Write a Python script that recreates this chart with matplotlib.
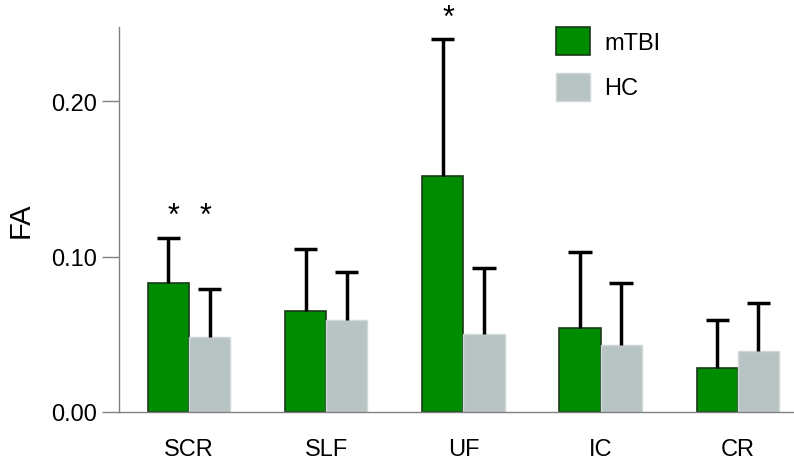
import numpy as np
import matplotlib.pyplot as plt

plt.rcParams['font.family'] = ['Liberation Sans', 'DejaVu Sans']

# 数据
regions = ['SCR', 'SLF', 'UF', 'IC', 'CR']
mtbi_mean = [0.083, 0.065, 0.152, 0.054, 0.028]
mtbi_sd = [0.029, 0.040, 0.088, 0.049, 0.031]
hc_mean = [0.048, 0.059, 0.050, 0.043, 0.039]
hc_sd = [0.031, 0.031, 0.043, 0.040, 0.031]
stars_mtbi = [True, False, True, False, False]
stars_hc = [True, False, False, False, False]

green = '#008c00'
grey = '#b8c4c4'

fig = plt.figure(figsize=(7.94, 4.64), dpi=100)
ax = fig.add_axes([0.150, 0.110, 0.850, 0.830])

x = np.arange(len(regions))
w = 0.30
cap = 0.085

ax.bar(x - w / 2, mtbi_mean, w, color=green, edgecolor='#1a3a1a', linewidth=1.2, label='mTBI', zorder=2)
ax.bar(x + w / 2, hc_mean, w, color=grey, edgecolor='#d0d8d8', linewidth=1.0, label='HC', zorder=2)

# 只画向上的误差线
for xs, m, s in [(x - w / 2, mtbi_mean, mtbi_sd), (x + w / 2, hc_mean, hc_sd)]:
    top = np.array(m) + np.array(s)
    ax.vlines(xs, m, top, color='black', linewidth=2.5, zorder=3)
    ax.hlines(top, xs - cap, xs + cap, color='black', linewidth=2.5, zorder=3)

# 显著性星号, 同组的星号放在同一高度
for i in range(len(regions)):
    if not (stars_mtbi[i] or stars_hc[i]):
        continue
    yy = max(mtbi_mean[i] + mtbi_sd[i], hc_mean[i] + hc_sd[i]) + 0.014
    if stars_mtbi[i]:
        ax.text(x[i] - w / 2 + 0.04, yy, '*', ha='center', va='center',
                fontsize=22, clip_on=False)
    if stars_hc[i]:
        ax.text(x[i] + w / 2 - 0.03, yy, '*', ha='center', va='center',
                fontsize=22, clip_on=False)

ax.set_xlim(-0.51, 4.41)
ax.set_ylim(0, 0.248)
ax.set_yticks([0.0, 0.1, 0.2])
ax.set_yticklabels(['0.00', '0.10', '0.20'])
ax.set_xticks(x)
ax.set_xticklabels(regions)

for s in ['top', 'right']:
    ax.spines[s].set_visible(False)
for s in ['left', 'bottom']:
    ax.spines[s].set_color('#808080')
    ax.spines[s].set_linewidth(1.0)

ax.tick_params(axis='y', length=12, width=1.0, color='#808080', labelsize=17, pad=4)
ax.tick_params(axis='x', length=0, labelsize=17, pad=19)
ax.set_ylabel('FA', fontsize=21, labelpad=12)

ax.legend(loc='upper left', bbox_to_anchor=(0.616, 1.055), frameon=False, fontsize=17,
          handlelength=1.45, handleheight=1.45, handletextpad=0.6, labelspacing=0.75)

plt.savefig('out.png', dpi=100)
